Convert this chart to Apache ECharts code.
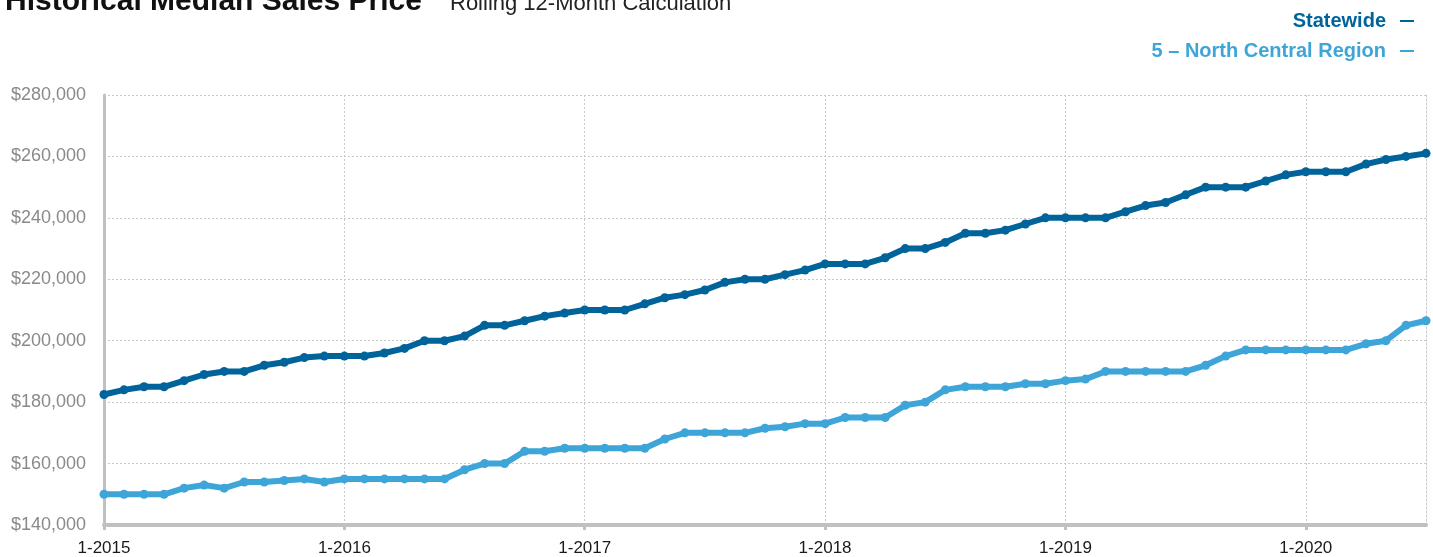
<!DOCTYPE html>
<html>
<head>
<meta charset="utf-8">
<script src="https://cdn.jsdelivr.net/npm/echarts@6/dist/echarts.min.js"></script>
<style>
html,body{margin:0;padding:0;background:#fff;}
#chart{width:1433px;height:557px;}
</style>
</head>
<body>
<div id="chart"></div>
<script>
var months = [
'1-2015','2-2015','3-2015','4-2015','5-2015','6-2015','7-2015','8-2015','9-2015','10-2015','11-2015','12-2015',
'1-2016','2-2016','3-2016','4-2016','5-2016','6-2016','7-2016','8-2016','9-2016','10-2016','11-2016','12-2016',
'1-2017','2-2017','3-2017','4-2017','5-2017','6-2017','7-2017','8-2017','9-2017','10-2017','11-2017','12-2017',
'1-2018','2-2018','3-2018','4-2018','5-2018','6-2018','7-2018','8-2018','9-2018','10-2018','11-2018','12-2018',
'1-2019','2-2019','3-2019','4-2019','5-2019','6-2019','7-2019','8-2019','9-2019','10-2019','11-2019','12-2019',
'1-2020','2-2020','3-2020','4-2020','5-2020','6-2020','7-2020'
];

var statewide = [
182500,184000,185000,185000,187000,189000,190000,190000,192000,193000,194500,195000,
195000,195000,196000,197500,200000,200000,201500,205000,205000,206500,208000,209000,
210000,210000,210000,212000,214000,215000,216500,219000,220000,220000,221500,223000,
225000,225000,225000,227000,230000,230000,232000,235000,235000,236000,238000,240000,
240000,240000,240000,242000,244000,245000,247500,250000,250000,250000,252000,254000,
255000,255000,255000,257500,259000,260000,261000
];

var northCentral = [
150000,150000,150000,150000,152000,153000,152000,154000,154000,154500,155000,154000,
155000,155000,155000,155000,155000,155000,158000,160000,160000,164000,164000,165000,
165000,165000,165000,165000,168000,170000,170000,170000,170000,171500,172000,173000,
173000,175000,175000,175000,179000,180000,184000,185000,185000,185000,186000,186000,
187000,187500,190000,190000,190000,190000,190000,192000,195000,197000,197000,197000,
197000,197000,197000,199000,200000,205000,206500
];

var seriesNames = ['Statewide', '5 \u2013 North Central Region'];
var yMin = 140000, yMax = 280000, yStep = 20000;

var DARK = '#00649b';
var LIGHT = '#3ea5d9';
var FONT = '"Liberation Sans", Arial, Helvetica, sans-serif';

var chart = echarts.init(document.getElementById('chart'));
chart.setOption({
  animation: false,
  backgroundColor: '#ffffff',
  textStyle: { fontFamily: FONT },
  graphic: [
    { type: 'text', left: 5, top: -13, style: { text: 'Historical Median Sales Price', font: 'bold 30px ' + FONT, fill: '#111111' } },
    { type: 'text', left: 450, top: -7, style: { text: 'Rolling 12-Month Calculation', font: '22px ' + FONT, fill: '#222222' } }
  ],
  legend: {
    orient: 'vertical',
    right: 14,
    top: 6,
    align: 'right',
    icon: 'rect',
    itemWidth: 14,
    itemHeight: 2,
    itemGap: 10,
    selectedMode: false,
    textStyle: { fontFamily: FONT, fontSize: 20, fontWeight: 'bold', padding: [0, 9, 0, 0] },
    data: [
      { name: seriesNames[0], textStyle: { color: DARK } },
      { name: seriesNames[1], textStyle: { color: LIGHT } }
    ]
  },
  grid: { left: 104, right: 7, top: 95, bottom: 32, containLabel: false },
  xAxis: {
    type: 'category',
    data: months,
    boundaryGap: false,
    axisLine: { lineStyle: { color: '#c0c0c0', width: 4 } },
    axisTick: { interval: 11, length: 5, lineStyle: { color: '#c0c0c0', width: 3 } },
    axisLabel: { interval: 11, color: '#1a1a1a', fontSize: 17, margin: 15, fontFamily: FONT },
    splitLine: { show: true, interval: 11, lineStyle: { color: '#c8c8c8', type: [2, 2], width: 1 } }
  },
  yAxis: [
    {
      type: 'value',
      min: yMin, max: yMax, interval: yStep,
      axisLine: { show: true, lineStyle: { color: '#c0c0c0', width: 3 } },
      axisTick: { show: false },
      axisLabel: {
        color: '#8a8a8a', fontSize: 18, margin: 18, fontFamily: FONT,
        formatter: function (v) { return '$' + v.toLocaleString('en-US'); }
      },
      splitLine: { lineStyle: { color: '#c8c8c8', type: [2, 2], width: 1 } }
    },
    {
      type: 'value',
      position: 'right',
      min: yMin, max: yMax, interval: yStep,
      axisLine: { show: true, lineStyle: { color: '#c8c8c8', type: [2, 2], width: 1 } },
      axisTick: { show: false },
      axisLabel: { show: false },
      splitLine: { show: false }
    }
  ],
  series: [
    {
      name: seriesNames[0],
      type: 'line',
      data: statewide,
      symbol: 'circle',
      symbolSize: 9,
      lineStyle: { color: DARK, width: 6 },
      itemStyle: { color: DARK },
      z: 3
    },
    {
      name: seriesNames[1],
      type: 'line',
      data: northCentral,
      symbol: 'circle',
      symbolSize: 9,
      lineStyle: { color: LIGHT, width: 6 },
      itemStyle: { color: LIGHT },
      z: 2
    }
  ]
});
</script>
</body>
</html>
